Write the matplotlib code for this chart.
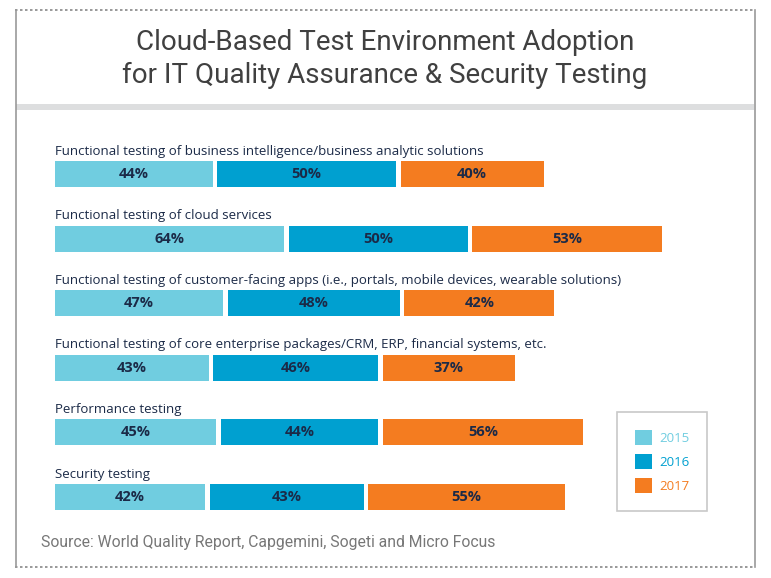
import matplotlib
matplotlib.use("Agg")
import matplotlib.pyplot as plt
from matplotlib.patches import Rectangle, Patch
from matplotlib.lines import Line2D

categories = [
    "Functional testing of business intelligence/business analytic solutions",
    "Functional testing of cloud services",
    "Functional testing of customer-facing apps (i.e., portals, mobile devices, wearable solutions)",
    "Functional testing of core enterprise packages/CRM, ERP, financial systems, etc.",
    "Performance testing",
    "Security testing",
]
years = ["2015", "2016", "2017"]
v2015 = [44, 64, 47, 43, 45, 42]
v2016 = [50, 50, 48, 46, 44, 43]
v2017 = [40, 53, 42, 37, 56, 55]

colors = ["#70CDE0", "#00A0D0", "#F47C20"]
label_color = "#1B2A47"
W, H = 771, 578
fig = plt.figure(figsize=(W / 100, H / 100), dpi=100)

def fx(px):
    return px / W

def fy(py):
    return 1 - py / H

# frame
bg = fig.add_axes([0, 0, 1, 1])
bg.set_xlim(0, W)
bg.set_ylim(H, 0)
bg.axis("off")
bg.add_line(Line2D([15, 755], [10, 10], color="#888888", lw=1.2, ls=(0, (1.5, 1.5))))
bg.add_line(Line2D([15, 755], [567, 567], color="#888888", lw=1.2, ls=(0, (1.5, 1.5))))
bg.add_line(Line2D([15.5, 15.5], [10, 567], color="#999999", lw=1.2))
bg.add_line(Line2D([754.5, 754.5], [10, 567], color="#999999", lw=1.2))
bg.add_patch(Rectangle((16, 104), 738, 6, color="#DDDEDF", lw=0))

fig.text(fx(385), fy(43), "Cloud-Based Test Environment Adoption", ha="center", va="center",
         fontsize=20, color="#404040", family="Roboto")
fig.text(fx(385), fy(75), "for IT Quality Assurance & Security Testing", ha="center", va="center",
         fontsize=20, color="#404040", family="Roboto")

fig.text(fx(41), fy(542), "Source: World Quality Report, Capgemini, Sogeti and Micro Focus",
         ha="left", va="center", fontsize=11.3, color="#777777", family="Roboto")

# bars axes: x from 55px, 3.58 px per %
ppu = 3.58
left_px, right_px = 55, 755
top_px, bot_px = 130, 540
ax = fig.add_axes([fx(left_px), fy(bot_px), fx(right_px - left_px), (bot_px - top_px) / H])
ax.set_xlim(0, (right_px - left_px) / ppu)
row0, step = 174, 64.6
ax.set_ylim((bot_px - row0) / step, (top_px - row0) / step)
ax.axis("off")

gap = 4.5 / ppu
bar_h = 26 / step
series = [v2015, v2016, v2017]
for i, cat in enumerate(categories):
    start = 0.0
    for s, vals in enumerate(series):
        v = vals[i]
        ax.barh(i, v, left=start, height=bar_h, color=colors[s], lw=0)
        ax.text(start + v / 2, i, f"{v}%", ha="center", va="center", fontsize=10.5,
                fontweight="bold", color=label_color, family="Open Sans")
        start += v + gap
    ax.text(0, i - 0.30, cat, ha="left", va="baseline", fontsize=9.5, color=label_color,
            family="Open Sans")

handles = [Patch(facecolor=c, edgecolor="none") for c in colors]
leg = fig.legend(handles, years, loc="upper left", bbox_to_anchor=(fx(617), fy(412)),
                 frameon=True, fancybox=False, edgecolor="#BBBBBB", fontsize=9.5,
                 handlelength=1.3, handleheight=1.3, handletextpad=0.5, labelspacing=0.72,
                 borderpad=1.38, borderaxespad=0)
leg.get_frame().set_linewidth(1.2)
for t, c in zip(leg.get_texts(), colors):
    t.set_color(c)
    t.set_family("Open Sans")

fig.savefig("out.png", dpi=100)
